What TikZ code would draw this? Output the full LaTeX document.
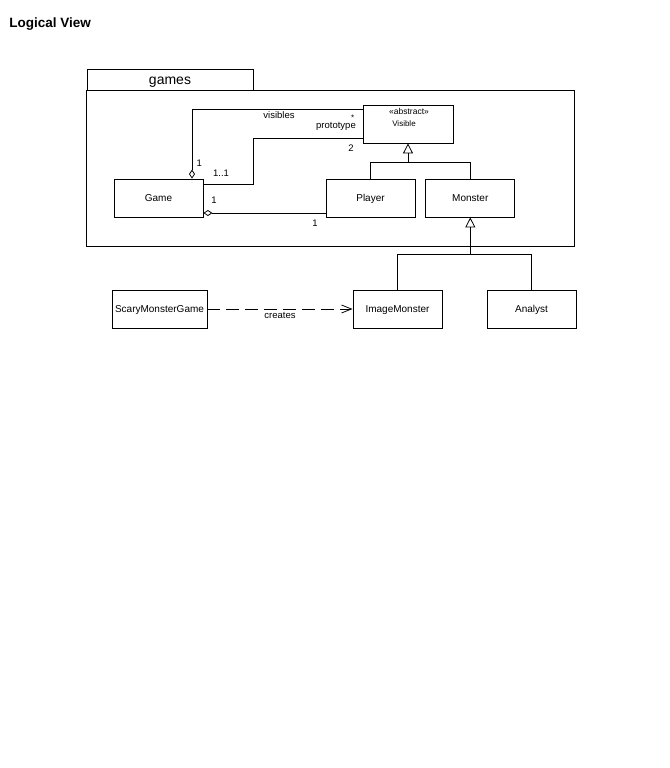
\documentclass[tikz,border=0pt]{standalone}
\usepackage{fontspec}
\setmainfont{Liberation Sans}
\usetikzlibrary{arrows.meta,positioning}

\begin{document}
\begin{tikzpicture}[x=1pt, y=-1pt, line width=0.8pt,
    class/.style={draw, minimum width=89pt, minimum height=38pt, inner sep=0pt, text height=7.2pt, text depth=0pt,
                  font=\fontsize{10}{12}\selectfont},
    mult/.style={inner sep=0pt, anchor=base, font=\fontsize{9.5}{11}\selectfont},
    aggr/.style={{Diamond[open,length=9pt,width=6pt]}-},
    gen/.style={-{Triangle[open,length=10pt,width=10pt]}},
    dep/.style={dash pattern=on 13pt off 6pt, -{Straight Barb[length=10pt,width=8pt]}}]
                \useasboundingbox (0,0) rectangle (669,768);
                \node[anchor=base west, inner sep=0pt, font=\bfseries\fontsize{13.5}{16}\selectfont] (title) at (9,27.7) {Logical View};

                % package games
                \node[draw, minimum width=166pt, minimum height=21pt, inner sep=0pt, text height=9.6pt, text depth=0pt,
                      font=\fontsize{14}{16}\selectfont] (pkgtab) at (170,79.5) {games};
                \node[draw, minimum width=488pt, minimum height=156pt, inner sep=0pt, outer sep=0pt,
                      below right=0pt of pkgtab.south west] (pkg) {};

                \node[class]         (game)    at (158.5,198)    {Game};
                \node[class]         (player)  at (370.5,198)    {Player};
                \node[class]         (monster) [right = 10pt of player] {Monster};
                \node[class, minimum width=90pt] (visible) at (408,124) {};
                \node[inner sep=0pt, font=\fontsize{8.5}{10}\selectfont] (abstract) at (409,111) {«abstract»};
                \node[inner sep=0pt, font=\fontsize{8}{10}\selectfont]   (visname)  at (404,124) {Visible};

                \node[class]         (image)   at (397.5,309)    {ImageMonster};
                \node[class]         (analyst) at (531.5,309)    {Analyst};
                \node[class, minimum width=95pt] (scary) at (159.5,309) {ScaryMonsterGame};

                % associations
                \draw[aggr] ([xshift=33.5pt]game.north) |- ([yshift=15pt]visible.west);
                \draw ([yshift=14pt]game.east) -- ++(50pt,0) |- ([yshift=-14pt]visible.west);
                \draw[aggr] ([yshift=-15pt]game.east) -- ([yshift=-15pt]player.west);

                \node[mult] (visibleslbl) at (279,118.3) {visibles};
                \node[mult, font=\fontsize{8}{10}\selectfont] (starlbl) at (352.7,120.3) {*};
                \node[mult] (protolbl)    at (336,128.3) {prototype};
                \node[mult] (twolbl)      at (351,151.7) {2};
                \node[mult] (onevis)      at (199.3,166) {1};
                \node[mult] (oneone)      at (221,176) {1..1};
                \node[mult] (onegame)     at (214,203.3) {1};
                \node[mult] (oneplayer)   at (315,226) {1};

                % generalizations
                \coordinate (gensplit) at ([yshift=-19pt]visible.south);
                \draw (player.north) |- (gensplit) -| (monster.north);
                \draw[gen] (gensplit) -- (visible.south);
                \coordinate (monsplit) at ([yshift=-37pt]monster.south);
                \draw (image.north) |- (monsplit) -| (analyst.north);
                \draw[gen] (monsplit) -- (monster.south);

                % dependency
                \draw[dep] (scary.east) -- (image.west);
                \node[mult] (createslbl) at (280,318) {creates};
            \end{tikzpicture}
\end{document}
